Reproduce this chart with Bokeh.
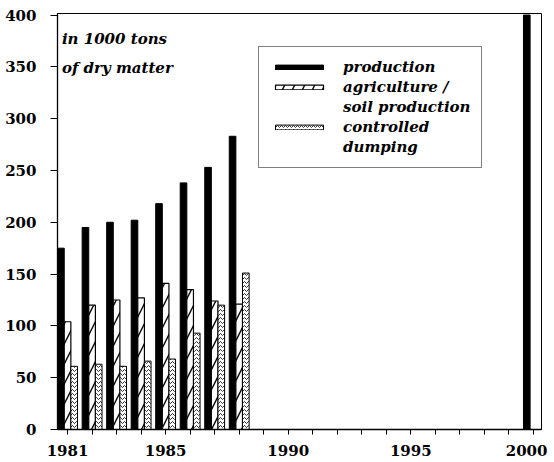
from bokeh.plotting import figure
from bokeh.models import (FixedTicker, Range1d, Legend, LegendItem, Label, ColumnDataSource)
from bokeh.transform import dodge
from bokeh.embed import file_html
from bokeh.resources import INLINE

# ---- data ----
years = [1981, 1982, 1983, 1984, 1985, 1986, 1987, 1988]
production = [175, 195, 200, 202, 218, 238, 253, 283]
agriculture = [104, 120, 125, 127, 141, 135, 124, 121]
dumping = [61, 63, 61, 66, 68, 93, 120, 151]
target_year = [2000]
target_production = [400]

y_ticks = [0, 50, 100, 150, 200, 250, 300, 350, 400]
x_tick_years = list(range(1981, 2001))
x_tick_labels = {1981: "1981", 1985: "1985", 1990: "1990", 1995: "1995", 2000: "2000"}

TICK_FONT = "DejaVu Serif"
TEXT_FONT = "DejaVu Serif"

p = figure(frame_width=484, frame_height=416, output_backend="svg", toolbar_location=None,
           x_range=Range1d(1980.59, 2000.33), y_range=Range1d(0, 401.5),
           min_border_left=57, min_border_top=13, min_border_right=6, min_border_bottom=30)

src = ColumnDataSource(dict(year=years, production=production, agriculture=agriculture, dumping=dumping))
src2 = ColumnDataSource(dict(year=target_year, production=target_production))

W = 0.27
r_prod = p.vbar(x=dodge("year", -0.27), top="production", width=W, source=src,
                fill_color="black", line_color="black")
p.vbar(x=dodge("year", -0.27), top="production", width=W, source=src2,
       fill_color="black", line_color="black")
r_agr = p.vbar(x=dodge("year", 0.0), top="agriculture", width=W, source=src,
               fill_color="white", line_color="black", line_width=1.2,
               hatch_pattern="/", hatch_color="black", hatch_scale=20, hatch_weight=1.4)
r_dmp = p.vbar(x=dodge("year", 0.27), top="dumping", width=W, source=src,
               fill_color="white", line_color="black", line_width=1,
               hatch_pattern="v", hatch_color="black", hatch_scale=4, hatch_weight=0.8)
# invisible renderer used for the continuation lines of the legend
r_blank = p.vbar(x=dodge("year", 0.0), top="agriculture", width=W, source=src,
                 fill_alpha=0, line_alpha=0)

# axes
p.xgrid.visible = False
p.ygrid.visible = False
p.outline_line_color = "black"
p.outline_line_width = 1

p.yaxis.ticker = FixedTicker(ticks=y_ticks)
p.yaxis.major_tick_out = 7
p.yaxis.major_tick_in = 0
p.yaxis.minor_tick_line_color = None
p.yaxis.major_label_standoff = 14

p.xaxis.ticker = FixedTicker(ticks=x_tick_years)
p.xaxis.major_label_overrides = {y: x_tick_labels.get(y, "") for y in x_tick_years}
p.xaxis.major_tick_out = 5
p.xaxis.major_tick_in = 0
p.xaxis.minor_tick_line_color = None
p.xaxis.major_label_standoff = 10

for ax in (p.xaxis, p.yaxis):
    ax.axis_line_color = "black"
    ax.axis_line_width = 1.3
    ax.major_tick_line_color = "black"
    ax.major_label_text_font = TICK_FONT
    ax.major_label_text_font_style = "bold"
    ax.major_label_text_font_size = "15px"
    ax.major_label_text_color = "black"

# unit annotation
for txt, yy in (("in 1000 tons", 377), ("of dry matter", 349)):
    p.add_layout(Label(x=1980.77, y=yy, text=txt, text_font=TEXT_FONT, text_font_style="bold italic",
                       text_font_size="15px", text_baseline="middle", text_color="black"))

legend = Legend(items=[
    LegendItem(label="production", renderers=[r_prod]),
    LegendItem(label="agriculture /", renderers=[r_agr]),
    LegendItem(label="soil production", renderers=[r_blank]),
    LegendItem(label="controlled", renderers=[r_dmp]),
    LegendItem(label="dumping", renderers=[r_blank]),
], location=(201, 261))
legend.glyph_width = 60
legend.glyph_height = 6
legend.label_standoff = 14
legend.padding = 10
legend.margin = 0
legend.spacing = 0
legend.label_height = 20
legend.label_text_font = TEXT_FONT
legend.label_text_font_style = "bold italic"
legend.label_text_font_size = "15px"
legend.label_text_color = "black"
legend.border_line_color = "black"
legend.border_line_width = 1
legend.background_fill_alpha = 1
p.add_layout(legend)

open("out.html", "w").write(file_html(p, INLINE))
